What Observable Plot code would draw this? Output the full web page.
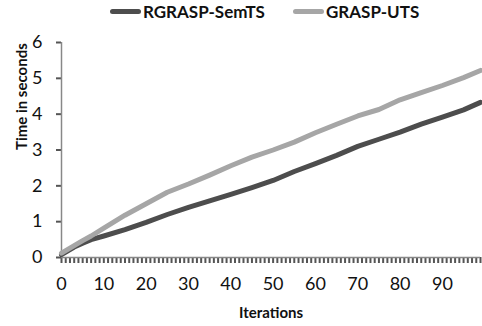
<!DOCTYPE html>
<html>
<head>
<meta charset="utf-8">
<script src="https://cdn.jsdelivr.net/npm/d3@7"></script>
<script src="https://cdn.jsdelivr.net/npm/@observablehq/plot@0.6"></script>
<style>
  body { margin: 0; background: #fff; font-family: Lato, "Open Sans", sans-serif; }
  #legend { height: 30px; position: relative; font-weight: bold; font-size: 17px; color: #111; }
  .item { position: absolute; top: 1px; display: flex; align-items: center; }
  .sw { width: 31px; height: 5px; border-radius: 3px; margin-right: 2px; }
</style>
</head>
<body>
<div id="legend"></div>
<div id="chart"></div>
<script>
const seriesNames = ["RGRASP-SemTS", "GRASP-UTS"];
const seriesColors = ["#4d4d4d", "#a6a6a6"];
const iterations = [0, 3, 5, 7, 10, 15, 20, 25, 30, 35, 40, 45, 50, 55, 60, 65, 70, 75, 80, 85, 90, 95, 99];
const rgraspSemTS = [0.08, 0.29, 0.4, 0.5, 0.6, 0.78, 0.98, 1.2, 1.4, 1.58, 1.76, 1.95, 2.15, 2.4, 2.62, 2.85, 3.1, 3.3, 3.5, 3.72, 3.92, 4.12, 4.33];
const graspUTS = [0.12, 0.33, 0.47, 0.6, 0.82, 1.18, 1.5, 1.82, 2.05, 2.3, 2.56, 2.8, 3.0, 3.22, 3.48, 3.72, 3.95, 4.13, 4.4, 4.6, 4.8, 5.02, 5.22];
const yTicks = [0, 1, 2, 3, 4, 5, 6];
const xLabelTicks = [0, 10, 20, 30, 40, 50, 60, 70, 80, 90];
const xMinorTicks = d3.range(0, 100);
const yLabel = "Time in seconds";
const xLabel = "Iterations";

const data = [];
iterations.forEach((it, i) => {
  data.push({series: seriesNames[0], x: it, y: rgraspSemTS[i]});
  data.push({series: seriesNames[1], x: it, y: graspUTS[i]});
});

const legend = document.getElementById("legend");
const legendX = [110, 293];
seriesNames.forEach((n, i) => {
  const d = document.createElement("div");
  d.className = "item";
  d.style.left = legendX[i] + "px";
  d.innerHTML = `<span class="sw" style="background:${seriesColors[i]}"></span><span>${n}</span>`;
  legend.appendChild(d);
});

const chart = Plot.plot({
  width: 482,
  height: 296,
  marginLeft: 61,
  marginRight: 2,
  marginTop: 12,
  marginBottom: 69,
  style: {fontFamily: "Lato, 'Open Sans', sans-serif", color: "#111", overflow: "visible"},
  x: {domain: [0, 99]},
  y: {domain: [0, 6]},
  color: {domain: seriesNames, range: seriesColors},
  marks: [
    Plot.axisY({ticks: yTicks, tickSize: 5, tickPadding: 14, fontSize: 18, stroke: "#555555", strokeWidth: 2,
      strokeOpacity: 1, tickFormat: d3.format("d"), label: null}),
    Plot.axisX({ticks: xMinorTicks, tickSize: 6, stroke: "#555555", strokeWidth: 2, strokeOpacity: 1,
      tickFormat: () => "", label: null}),
    Plot.axisX({ticks: xLabelTicks, tickSize: 0, tickPadding: 20, fontSize: 18, label: null}),
    Plot.text([yLabel], {text: d => d, frameAnchor: "left", rotate: -90, dx: -39,
      fontWeight: "bold", fontSize: 15, fill: "#111"}),
    Plot.text([xLabel], {text: d => d, frameAnchor: "bottom", dy: 60,
      fontWeight: "bold", fontSize: 15, fill: "#111"}),
    Plot.ruleX([0], {stroke: "#888", strokeWidth: 1.5}),
    Plot.ruleY([0], {stroke: "#888", strokeWidth: 1.5}),
    Plot.line(data, {x: "x", y: "y", z: "series", stroke: "series", strokeWidth: 5, curve: "linear"})
  ]
});
document.getElementById("chart").appendChild(chart);
</script>
</body>
</html>
